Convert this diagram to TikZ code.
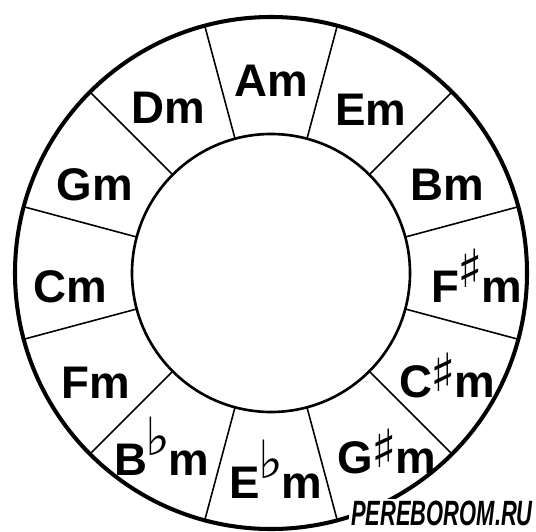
\documentclass[tikz,border=0pt]{standalone}
\usepackage{fontspec}
\setmainfont{Liberation Sans}
\newfontfamily\symfont{DejaVu Sans}
\newcommand{\shp}[1][0.12em]{\kern-1pt\raisebox{#1}{\symfont\fontsize{30}{30}\selectfont ♯}\kern-1pt}
\newcommand{\flt}{\kern-1pt\raisebox{0.42em}{\symfont\fontsize{30}{30}\selectfont ♭}\kern-1pt}
\begin{document}
\begin{tikzpicture}[
                x=0.02cm, y=0.02cm,
                chord/.style={font=\fontsize{26}{26}\bfseries\selectfont, inner sep=0pt, anchor=base},
                rim/.style={line width=2.3pt},
                hub/.style={line width=1.5pt},
                spoke/.style={line width=0.9pt}
            ]
            \useasboundingbox (-271,-258) rectangle (265,273);
            % 外圆与内圆
            \draw[rim] (0,0) circle (256);
            \draw[hub] (0,0) circle (139);

            % 分隔线
            \foreach \a in {15,45,...,345}
                \draw[spoke] (\a:139) -- (\a:256);

            % 和弦名称
            \node[chord] (am) at (0,176) {Am};
            \node[chord] (em) at (100,148) {Em};
            \node[chord] (bm) at (176,73) {Bm};
            \node[chord] (fsm) at (206,-29) {F\shp[0.32em]m};
            \node[chord] (csm) at (176,-124) {C\shp m};
            \node[chord] (gsm) at (116,-200) {G\shp m};
            \node[chord] (ebm) at (5,-225) {E\flt m};
            \node[chord] (bbm) at (-109,-202) {B\flt m};
            \node[chord] (fm) at (-175,-125) {Fm};
            \node[chord] (cm) at (-201,-29) {Cm};
            \node[chord] (gm) at (-176,73) {Gm};
            \node[chord] (dm) at (-103,150) {Dm};

            % 水印
            \node[fill=white, inner sep=1pt,
                  font=\fontsize{16}{16}\bfseries\itshape\selectfont] (mark) at (171,-240)
                {\scalebox{0.78}[1.25]{PEREBOROM.RU}};
\end{tikzpicture}
\end{document}
